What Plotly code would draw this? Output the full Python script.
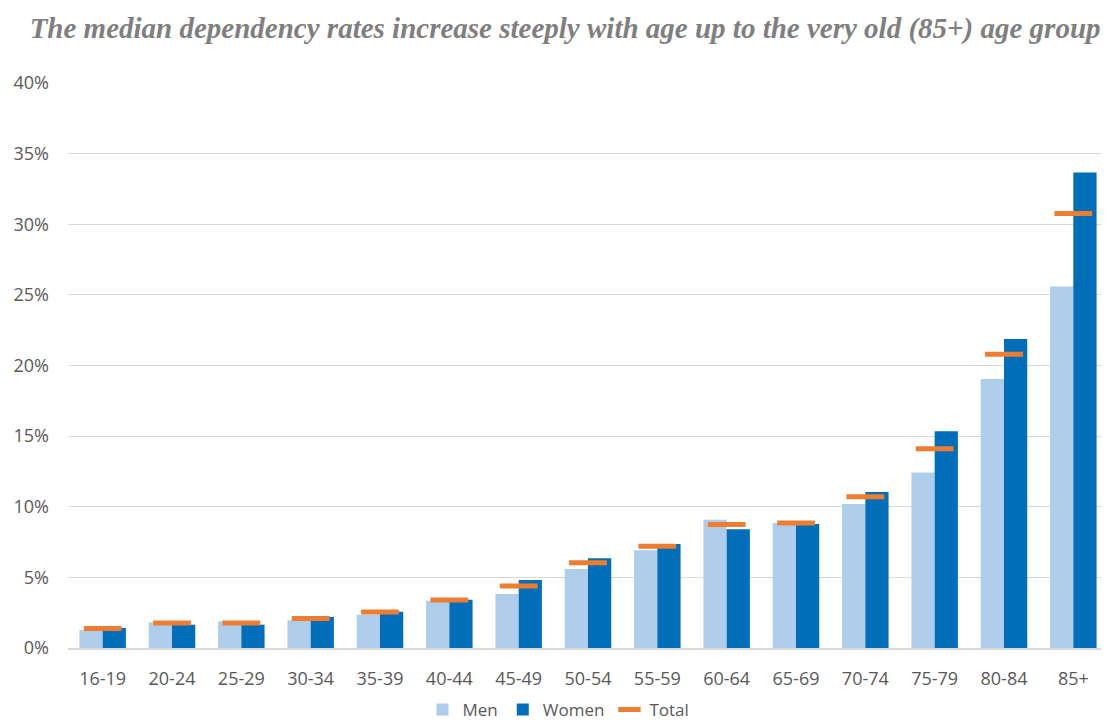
import plotly.graph_objects as go

categories = ["16-19", "20-24", "25-29", "30-34", "35-39", "40-44", "45-49", "50-54",
              "55-59", "60-64", "65-69", "70-74", "75-79", "80-84", "85+"]
men = [1.25, 1.82, 1.89, 1.96, 2.36, 3.35, 3.82, 5.6, 6.92, 9.08, 8.85, 10.2, 12.43, 19.05, 25.6]
women = [1.42, 1.65, 1.65, 2.2, 2.57, 3.42, 4.82, 6.35, 7.37, 8.4, 8.77, 11.04, 15.35, 21.88, 33.66]
total = [1.38, 1.77, 1.77, 2.08, 2.55, 3.4, 4.39, 6.04, 7.2, 8.75, 8.85, 10.7, 14.1, 20.8, 30.76]

y_ticks = [0, 5, 10, 15, 20, 25, 30, 35, 40]
y_tick_labels = [f"{v}%" for v in y_ticks]

title_text = "The median dependency rates increase steeply with age up to the very old (85+) age group"

# page body has an ~8px margin, so the figure is 8px smaller than the window
W, H = 1101, 720
plot_left, plot_right, plot_top, plot_bottom = 60, 1100, 75, 640

fig = go.Figure()
fig.add_trace(go.Bar(name="Men", x=categories, y=men, marker=dict(color="#ADCDEB", line=dict(width=0))))
fig.add_trace(go.Bar(name="Women", x=categories, y=women, marker=dict(color="#006EB9", line=dict(width=0))))
fig.add_trace(go.Scatter(name="Total", x=categories, y=total, mode="markers",
                         marker=dict(symbol="line-ew", size=27, color="#ED7D31",
                                     line=dict(color="#ED7D31", width=5))))

fig.update_layout(
    width=W, height=H,
    margin=dict(l=0, r=0, t=0, b=0),
    paper_bgcolor="white", plot_bgcolor="white",
    barmode="group", bargap=0.33, bargroupgap=0,
    title=dict(text=f"<b><i>{title_text}</i></b>", x=0.506, xanchor="center",
               y=1 - 20 / H, yanchor="middle",
               font=dict(family="Liberation Serif", size=29, color="#7F7F7F")),
    font=dict(family="Open Sans, sans-serif", size=18, color="#595959"),
    xaxis=dict(domain=[plot_left / W, plot_right / W], range=[-0.5, len(categories) - 0.5],
               showline=True, linecolor="#D9D9D9", linewidth=2, showgrid=False, ticks="",
               automargin=False, ticklabelstandoff=13,
               tickfont=dict(size=18, color="#595959")),
    yaxis=dict(domain=[1 - plot_bottom / H, 1 - plot_top / H], range=[0, 40],
               tickvals=y_ticks, ticktext=y_tick_labels, showgrid=True,
               gridcolor="#D9D9D9", gridwidth=1, zeroline=False, ticks="", ticklabelstandoff=18,
               automargin=False,
               tickfont=dict(size=18, color="#595959")),
    legend=dict(orientation="h", x=0.5, xanchor="center",
                y=0, yanchor="bottom",
                font=dict(size=17, color="#595959"), traceorder="normal"),
    showlegend=True,
)

fig.write_html("out.html")
